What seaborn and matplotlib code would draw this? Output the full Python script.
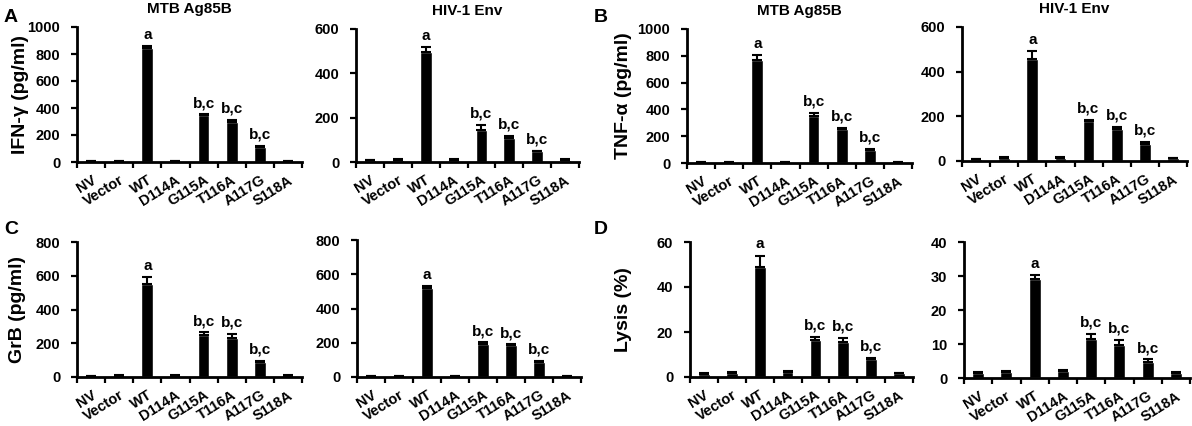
import numpy as np
import pandas as pd
import matplotlib
matplotlib.use("Agg")
import matplotlib.pyplot as plt
import seaborn as sns

categories = ["NV", "Vector", "WT", "D114A", "G115A", "T116A", "A117G", "S118A"]
sig_labels = ["", "", "a", "", "b,c", "b,c", "b,c", ""]

ifn_mtb = [5, 5, 845, 5, 345, 295, 112, 5]
ifn_mtb_err = [2, 2, 15, 2, 8, 18, 8, 2]
ifn_hiv = [7, 10, 497, 10, 145, 110, 48, 10]
ifn_hiv_err = [2, 2, 20, 2, 22, 7, 3, 2]

tnf_mtb = [8, 8, 770, 8, 350, 255, 100, 8]
tnf_mtb_err = [3, 3, 35, 3, 22, 8, 8, 3]
tnf_hiv = [8, 13, 455, 15, 180, 145, 78, 12]
tnf_hiv_err = [2, 3, 38, 4, 5, 7, 7, 3]

grb_mtb = [5, 8, 550, 7, 250, 232, 88, 7]
grb_mtb_err = [2, 2, 40, 2, 15, 22, 6, 2]
grb_hiv = [5, 6, 517, 6, 190, 185, 90, 6]
grb_hiv_err = [2, 2, 15, 2, 12, 6, 6, 2]

lys_mtb = [1.5, 2.0, 49, 2.2, 16.5, 15.5, 8.0, 1.8]
lys_mtb_err = [0.2, 0.2, 5, 0.3, 1.5, 2.0, 0.5, 0.2]
lys_hiv = [1.5, 1.8, 29, 2.0, 11.5, 9.8, 4.8, 1.6]
lys_hiv_err = [0.2, 0.2, 1.2, 0.4, 1.5, 1.4, 0.7, 0.1]

titles = ["MTB Ag85B", "HIV-1 Env"]

sns.set_style("ticks")
plt.rcParams["font.family"] = ["Liberation Sans", "DejaVu Sans"]
plt.rcParams["font.weight"] = "bold"
for k in ["text.color", "axes.labelcolor", "xtick.color", "ytick.color", "axes.edgecolor"]:
    plt.rcParams[k] = "black"

W, H = 1192, 426
fig = plt.figure(figsize=(W / 100, H / 100), dpi=100)

def fx(px):
    return px / W

def fy(py):
    return 1 - py / H

panels = [
    (ifn_mtb, ifn_mtb_err, 1000, [0, 200, 400, 600, 800, 1000], 77, 302, 27, 162, "IFN-γ (pg/ml)", -0.215, titles[0]),
    (ifn_hiv, ifn_hiv_err, 600, [0, 200, 400, 600], 356, 579, 29, 162, None, None, titles[1]),
    (tnf_mtb, tnf_mtb_err, 1000, [0, 200, 400, 600, 800, 1000], 687, 912, 29, 163, "TNF-α (pg/ml)", -0.245, titles[0]),
    (tnf_hiv, tnf_hiv_err, 600, [0, 200, 400, 600], 962, 1187, 27, 161, None, None, titles[1]),
    (grb_mtb, grb_mtb_err, 800, [0, 200, 400, 600, 800], 77, 302, 242, 377, "GrB (pg/ml)", -0.225, None),
    (grb_hiv, grb_hiv_err, 800, [0, 200, 400, 600, 800], 357, 581, 240, 377, None, None, None),
    (lys_mtb, lys_mtb_err, 60, [0, 20, 40, 60], 690, 913, 242, 377, "Lysis (%)", -0.26, None),
    (lys_hiv, lys_hiv_err, 40, [0, 10, 20, 30, 40], 964, 1190, 242, 378, None, None, None),
]

for vals, errs, ymax, yticks, l, r, t, b, ylabel, ylx, title in panels:
    ax = fig.add_axes([fx(l), fy(b), fx(r - l), fy(t) - fy(b)])
    df = pd.DataFrame({"cat": categories, "val": vals})
    sns.barplot(data=df, x="cat", y="val", order=categories, color="black",
                width=0.42, errorbar=None, ax=ax, saturation=1)
    x = np.arange(len(categories))
    ax.errorbar(x, vals, yerr=[np.zeros(len(vals)), errs], fmt="none",
                ecolor="black", elinewidth=1.5, capsize=3.5, capthick=1.5)
    for xi, v, e, s in zip(x, vals, errs, sig_labels):
        if s:
            ax.annotate(s, (xi, v + e), xytext=(0, 3), textcoords="offset points",
                        ha="center", va="bottom", fontsize=11, fontweight="bold",
                        color="black")
    ax.set_xlim(-0.5, len(categories) - 0.5)
    ax.set_ylim(0, ymax)
    ax.set_yticks(yticks)
    ax.set_yticklabels([str(v) for v in yticks], fontsize=10.5, fontweight="bold")
    ax.set_xticks(x)
    ax.set_xticklabels(categories, rotation=32, ha="right", va="top",
                       rotation_mode="anchor", fontsize=10.5, fontweight="bold")
    ax.tick_params(axis="x", which="major", length=0, pad=8)
    ax.set_xticks(np.arange(-0.5, len(categories), 1.0), minor=True)
    ax.tick_params(axis="x", which="minor", length=4, width=1.6, direction="out", color="black")
    ax.tick_params(axis="y", length=4, width=1.6, direction="out", color="black", pad=8)
    for sp in ["top", "right"]:
        ax.spines[sp].set_visible(False)
    for sp in ["left", "bottom"]:
        ax.spines[sp].set_linewidth(2.0)
        ax.spines[sp].set_color("black")
    ax.set_xlabel("")
    if ylabel:
        ax.set_ylabel(ylabel, fontsize=14, fontweight="bold")
        ax.yaxis.set_label_coords(ylx, 0.5)
    else:
        ax.set_ylabel("")
    if title:
        ax.set_title(title, fontsize=11, fontweight="bold", pad=10)

for letter, px, py in [("A", 4, 17), ("B", 594, 17), ("C", 4, 230), ("D", 594, 230)]:
    fig.text(fx(px), fy(py), letter, fontsize=14, fontweight="bold", ha="left", va="center")

fig.savefig("out.png", dpi=100)
